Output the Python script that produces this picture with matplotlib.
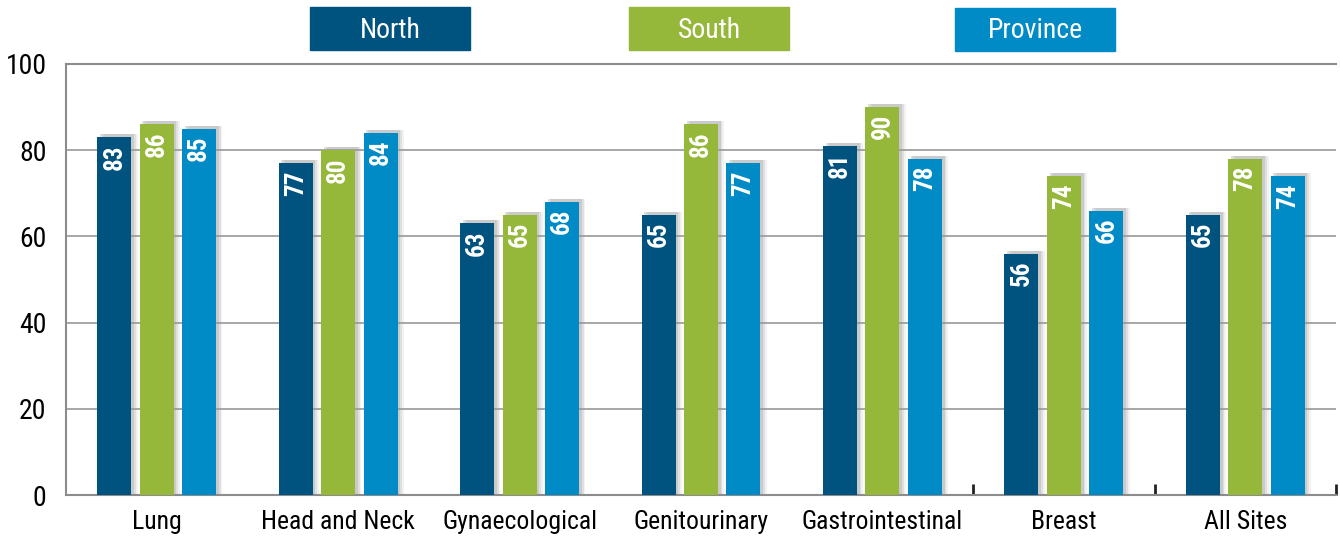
import numpy as np
import matplotlib.pyplot as plt
from matplotlib.patches import Rectangle

categories = ["Lung", "Head and Neck", "Gynaecological", "Genitourinary",
              "Gastrointestinal", "Breast", "All Sites"]
north = [83, 77, 63, 65, 81, 56, 65]
south = [86, 80, 65, 86, 90, 74, 78]
province = [85, 84, 68, 77, 78, 66, 74]
series_names = ["North", "South", "Province"]
colors = ["#00527f", "#95b73a", "#008bc6"]
yticks = [0, 20, 40, 60, 80, 100]

FONT = ["Roboto Condensed", "Archivo Narrow", "DejaVu Sans"]
plt.rcParams["font.family"] = FONT

fig = plt.figure(figsize=(13.4, 5.42), dpi=100)
ax = fig.add_axes([66 / 1340, 47 / 542, 1270 / 1340, 431 / 542])

x = np.arange(len(categories))
width = 0.187
step = 0.234
for i, (vals, col) in enumerate(zip([north, south, province], colors)):
    pos = x + (i - 1) * step
    # soft shadow behind the bars
    for k, a in [(0.035, 0.12), (0.025, 0.2), (0.015, 0.3)]:
        ax.bar(pos + k, np.array(vals) + 0.7, width, color="#9a9a9a",
               alpha=a, zorder=2, linewidth=0)
    ax.bar(pos, vals, width, color=col, zorder=3, linewidth=0)
    for px, v in zip(pos, vals):
        ax.annotate(str(v), (px, v), xytext=(0, -5), textcoords="offset points",
                    rotation=90, ha="center", va="top", color="white",
                    fontsize=18, fontweight="bold", zorder=4)

ax.set_xlim(-0.5, len(categories) - 0.5)
ax.set_ylim(0, 100)
ax.set_yticks(yticks)
ax.set_yticklabels([str(t) for t in yticks], fontsize=20)
ax.set_xticks(x)
ax.set_xticklabels(categories, fontsize=18.5)
ax.tick_params(axis="x", length=0, pad=11)
ax.tick_params(axis="y", length=0, pad=14)
ax.set_xticks([4.5, 5.5, 6.5], minor=True)
ax.tick_params(axis="x", which="minor", direction="in", length=8,
               width=2, color="#222222")
ax.yaxis.grid(True, color="#a0a0a0", linewidth=1.3, zorder=0)
ax.set_axisbelow(True)
ax.spines["right"].set_visible(False)
for s in ["left", "top", "bottom"]:
    ax.spines[s].set_color("#8c8c8c")
    ax.spines[s].set_linewidth(1.5)

# legend boxes above the chart
boxes = [(310, 7), (629, 7), (955, 8)]
for name, col, (bx, by) in zip(series_names, colors, boxes):
    fig.patches.append(Rectangle((bx / 1340, 1 - (by + 43) / 542), 160 / 1340,
                                 43 / 542, transform=fig.transFigure,
                                 color=col, zorder=5))
    fig.text((bx + 80) / 1340, 1 - (by + 23) / 542, name, color="white",
             fontsize=20, ha="center", va="center", zorder=6)

fig.savefig("out.png", dpi=100)
